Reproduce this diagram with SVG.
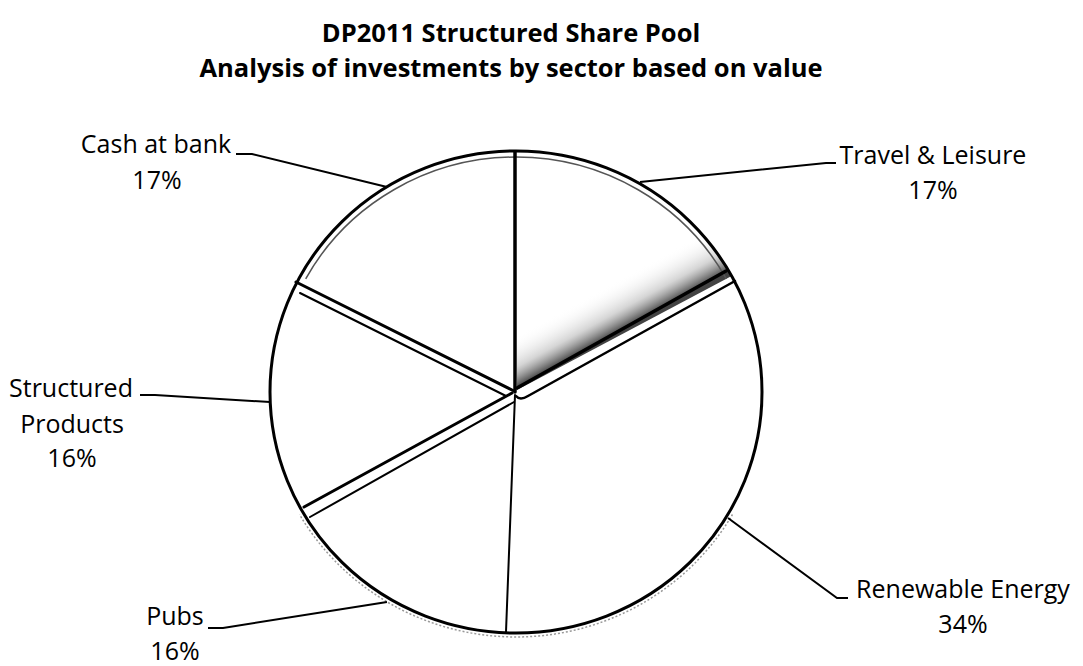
<svg xmlns="http://www.w3.org/2000/svg" width="1083" height="666" viewBox="0 0 1083 666">
  <style>
    .t { font-family: "Open Sans", "Liberation Sans", sans-serif; fill: #000; }
    .title { font-size: 25.5px; font-weight: bold; text-anchor: middle; }
    .lbl { font-size: 25px; text-anchor: middle; }
    .slice { fill: #fff; stroke: none; }
    .edge { stroke: #000; fill: none; stroke-linecap: round; }
    .leader { stroke: #000; stroke-width: 2; fill: none; }
  </style>
  <defs>
    <linearGradient id="shade" gradientUnits="userSpaceOnUse" x1="620" y1="331" x2="598" y2="291">
      <stop offset="0" stop-color="#222" stop-opacity="0.85"/>
      <stop offset="0.4" stop-color="#888" stop-opacity="0.35"/>
      <stop offset="1" stop-color="#fff" stop-opacity="0"/>
    </linearGradient>
  </defs>
  <rect width="1083" height="666" fill="#fff"/>

  <g id="title">
    <text class="t title" x="511" y="42">DP2011 Structured Share Pool</text>
    <text class="t title" x="511" y="77">Analysis of investments by sector based on value</text>
  </g>

  <g id="slice-travel-leisure">
    <path class="slice" d="M515,392 L515,151 A246,241 0 0,1 731.6,275.9 Z"/>
    <path d="M517,390 L515,151 A246,241 0 0,1 731.6,275.9 Z" fill="url(#shade)"/>
    <text class="t lbl" x="933" y="164">Travel &amp; Leisure</text>
    <text class="t lbl" x="933" y="199">17%</text>
  </g>
  <g id="slice-renewable-energy">
    <path class="slice" d="M522,398 L735,282 A246,241 0 0,1 506,633 Z"/>
    <text class="t lbl" x="963" y="598">Renewable Energy</text>
    <text class="t lbl" x="963" y="633">34%</text>
  </g>
  <g id="slice-pubs">
    <path class="slice" d="M515,396 L506,633 A246,241 0 0,1 305,513 Z"/>
    <text class="t lbl" x="175" y="625">Pubs</text>
    <text class="t lbl" x="175" y="660">16%</text>
  </g>
  <g id="slice-structured-products">
    <path class="slice" d="M512,394 L300,508 A246,241 0 0,1 296,282 Z"/>
    <text class="t lbl" x="71" y="397">Structured</text>
    <text class="t lbl" x="72" y="433">Products</text>
    <text class="t lbl" x="72" y="467">16%</text>
  </g>
  <g id="slice-cash-at-bank">
    <path class="slice" d="M515,392 L296,282 A246,241 0 0,1 515,151 Z"/>
    <text class="t lbl" x="156" y="153">Cash at bank</text>
    <text class="t lbl" x="157" y="189">17%</text>
  </g>

  <g id="pie-outline">
    <ellipse cx="516" cy="392" rx="246" ry="241" fill="none" stroke="#000" stroke-width="3"/>
    <path d="M305.7,278.8 A240,235 0 0,1 726.3,278.8" fill="none" stroke="#555" stroke-width="1.5"/>
    <path d="M732.5,514.5 A250,245 0 0,1 299.5,514.5" fill="none" stroke="#999" stroke-width="1.5" stroke-dasharray="2 2"/>
    <line class="edge" x1="515" y1="392" x2="515" y2="152" stroke-width="3.5"/>
    <line class="edge" x1="515" y1="395" x2="506" y2="632" stroke-width="2"/>
    <line class="edge" x1="517" y1="388" x2="726" y2="271" stroke-width="3.5"/>
    <path class="edge" d="M735,281 L528,396 Q520,401 516,396" stroke-width="2.5"/>
    <line class="edge" x1="296" y1="282" x2="514" y2="391" stroke-width="3"/>
    <line class="edge" x1="300" y1="293" x2="506" y2="396" stroke-width="2"/>
    <line class="edge" x1="304" y1="507" x2="512" y2="393" stroke-width="3"/>
    <line class="edge" x1="310" y1="517" x2="514" y2="402" stroke-width="2"/>
  </g>

  <g id="connectors">
    <path class="leader" d="M236,154 L252,154 L387,187"/>
    <path class="leader" d="M640,182 L826,163 L836,163"/>
    <path class="leader" d="M140,395 L155,395 L270,402"/>
    <path class="leader" d="M208,628 L223,628 L387,602"/>
    <path class="leader" d="M728,518 L837,598 L848,598"/>
  </g>
</svg>
